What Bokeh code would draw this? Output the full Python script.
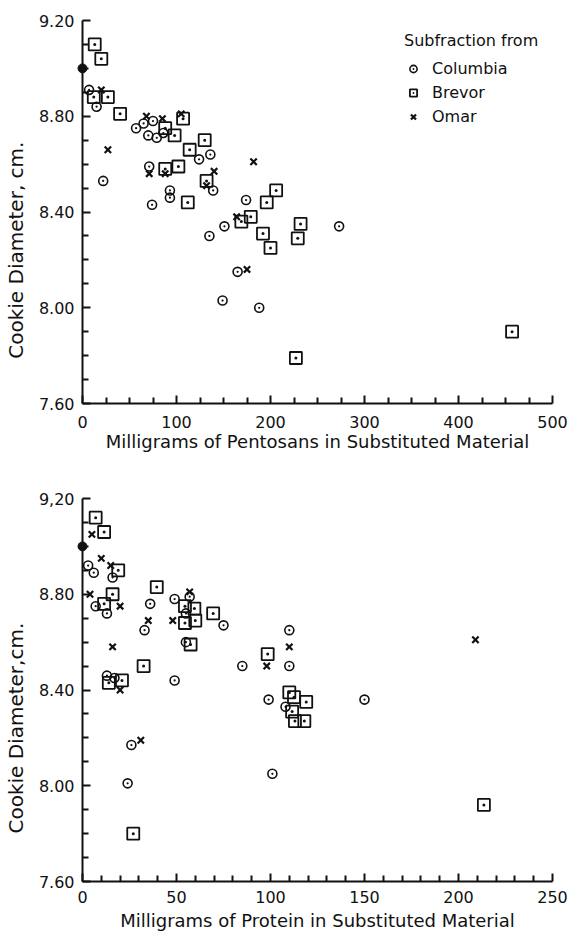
from bokeh.plotting import figure
from bokeh.layouts import column
from bokeh.models import Range1d, FixedTicker, Legend, LegendItem
from bokeh.embed import file_html
from bokeh.resources import INLINE

# ---------------- data ----------------
control_x = [0]
control_y = [9.00]

# top: pentosans (mg)
top_col_x = [7, 15, 22, 57, 65, 75, 70, 79, 86, 124, 136, 71, 93, 93, 74, 139, 174, 151, 135, 273, 165, 149, 188]
top_col_y = [8.91, 8.84, 8.53, 8.75, 8.77, 8.78, 8.72, 8.71, 8.73, 8.62, 8.64, 8.59, 8.49, 8.46, 8.43, 8.49, 8.45, 8.34, 8.30, 8.34, 8.15, 8.03, 8.00]
top_bre_x = [13, 20, 12, 27, 40, 88, 107, 98, 130, 114, 88, 102, 112, 132, 196, 206, 169, 179, 192, 200, 232, 229, 227, 457]
top_bre_y = [9.10, 9.04, 8.88, 8.88, 8.81, 8.75, 8.79, 8.72, 8.70, 8.66, 8.58, 8.59, 8.44, 8.53, 8.44, 8.49, 8.36, 8.38, 8.31, 8.25, 8.35, 8.29, 7.79, 7.90]
top_omar_x = [20, 27, 68, 85, 105, 71, 88, 140, 132, 182, 164, 175]
top_omar_y = [8.91, 8.66, 8.80, 8.79, 8.81, 8.56, 8.56, 8.57, 8.51, 8.61, 8.38, 8.16]

# bottom: protein (mg)
bot_col_x = [3, 6, 16, 7, 13, 13, 17, 36, 33, 49, 49, 57, 55, 75, 55, 85, 110, 110, 99, 150, 108, 26, 24, 101]
bot_col_y = [8.92, 8.89, 8.87, 8.75, 8.72, 8.46, 8.45, 8.76, 8.65, 8.44, 8.78, 8.79, 8.72, 8.67, 8.60, 8.50, 8.65, 8.50, 8.36, 8.36, 8.33, 8.17, 8.01, 8.05]
bot_bre_x = [7, 11.5, 19, 16, 11.5, 14, 21, 39.5, 32.5, 54.5, 59.5, 54.5, 60, 69.5, 57.5, 98.5, 110, 112.5, 119, 111.5, 113, 118, 27, 213.5]
bot_bre_y = [9.12, 9.06, 8.90, 8.80, 8.76, 8.43, 8.44, 8.83, 8.50, 8.75, 8.74, 8.68, 8.69, 8.72, 8.59, 8.55, 8.39, 8.37, 8.35, 8.31, 8.27, 8.27, 7.80, 7.92]
bot_omar_x = [5, 10, 15, 4, 20, 16, 20, 35, 48, 57, 98, 110, 209, 31]
bot_omar_y = [9.05, 8.95, 8.92, 8.80, 8.75, 8.58, 8.40, 8.69, 8.69, 8.81, 8.50, 8.58, 8.61, 8.19]

y_major = [7.6, 8.0, 8.4, 8.8, 9.2]
y_minor = [7.7, 7.8, 7.9, 8.1, 8.2, 8.3, 8.5, 8.6, 8.7, 8.9, 9.0, 9.1]
top_y_labels = ["7.60", "8.00", "8.40", "8.80", "9.20"]
bot_y_labels = ["7.60", "8.00", "8.40", "8.80", "9,20"]

top_x_major = [0, 100, 200, 300, 400, 500]
top_x_minor = [25, 50, 75, 125, 150, 175, 225, 250, 275, 325, 350, 375, 425, 450, 475]
bot_x_major = [0, 50, 100, 150, 200, 250]
bot_x_minor = [v for v in range(10, 250, 10) if v % 50 != 0]

# trailing no-break spaces push the (centred) label down as in the original
top_ylabel = "Cookie Diameter, cm." + "\u00a0" * 12
bot_ylabel = "Cookie Diameter,cm." + "\u00a0" * 12
top_xlabel = "Milligrams of Pentosans in Substituted Material"
bot_xlabel = "Milligrams of Protein in Substituted Material"

FONT = "DejaVu Sans"
INK = "#111111"


def style(p, x_major, x_minor, y_labels, xlabel, ylabel, tick_standoff, title_standoff):
    p.outline_line_color = None
    p.xgrid.visible = False
    p.ygrid.visible = False
    p.background_fill_color = "white"
    p.border_fill_color = "white"
    p.xaxis.ticker = FixedTicker(ticks=x_major, minor_ticks=x_minor)
    p.yaxis.ticker = FixedTicker(ticks=y_major, minor_ticks=y_minor)
    p.yaxis.major_label_overrides = {v: s for v, s in zip(y_major, y_labels)}
    for ax in (p.xaxis[0], p.yaxis[0]):
        ax.axis_line_color = INK
        ax.axis_line_width = 2
        ax.major_tick_line_color = INK
        ax.major_tick_line_width = 2
        ax.minor_tick_line_color = INK
        ax.minor_tick_line_width = 2
        ax.major_tick_in = 8
        ax.major_tick_out = 0
        ax.minor_tick_in = 6
        ax.minor_tick_out = 0
        ax.major_label_text_font = FONT
        ax.major_label_text_font_size = "16px"
        ax.major_label_text_color = INK
        ax.axis_label_text_font = FONT
        ax.axis_label_text_font_style = "normal"
        ax.axis_label_text_color = INK
    p.yaxis.major_label_standoff = 8
    p.xaxis.major_label_standoff = tick_standoff
    p.yaxis.axis_label = ylabel
    p.yaxis.axis_label_text_font_size = "20px"
    p.yaxis.axis_label_standoff = 8
    p.xaxis.axis_label = xlabel
    p.xaxis.axis_label_text_font_size = "18px"
    p.xaxis.axis_label_standoff = title_standoff


def add_points(p, cx, cy, bx, by, ox, oy):
    rc = p.scatter(cx, cy, marker="circle_dot", size=9, line_width=1.6,
                   line_color=INK, fill_color=None)
    rb = p.scatter(bx, by, marker="square_dot", size=12, line_width=1.8,
                   line_color=INK, fill_color=None)
    ro = p.scatter(ox, oy, marker="x", size=9, line_width=2.2, line_color=INK)
    p.scatter(control_x, control_y, marker="circle", size=9, line_color=INK,
              fill_color=INK, level="overlay")
    return rc, rb, ro


# ---------------- top figure ----------------
p1 = figure(width=572, height=455, output_backend="svg", toolbar_location=None,
            x_range=Range1d(0, 500), y_range=Range1d(7.6, 9.2),
            min_border_left=82, min_border_right=20, min_border_top=20,
            min_border_bottom=52)
style(p1, top_x_major, top_x_minor, top_y_labels, top_xlabel, top_ylabel, 12, 0)
rc, rb, ro = add_points(p1, top_col_x, top_col_y, top_bre_x, top_bre_y,
                        top_omar_x, top_omar_y)

legend = Legend(items=[LegendItem(label="Columbia", renderers=[rc]),
                       LegendItem(label="Brevor", renderers=[rb]),
                       LegendItem(label="Omar", renderers=[ro])],
                title="Subfraction from", location=(322, 276))
legend.border_line_color = None
legend.background_fill_alpha = 0
legend.title_text_font = FONT
legend.title_text_font_size = "16px"
legend.title_text_font_style = "normal"
legend.title_text_color = INK
legend.label_text_font = FONT
legend.label_text_font_size = "16px"
legend.label_text_color = INK
legend.glyph_width = 18
legend.glyph_height = 21
legend.label_height = 21
legend.spacing = 3
legend.label_standoff = 10
legend.title_standoff = 8
legend.padding = 4
legend.margin = 0
p1.add_layout(legend)

# ---------------- bottom figure ----------------
p2 = figure(width=572, height=479, output_backend="svg", toolbar_location=None,
            x_range=Range1d(0, 250), y_range=Range1d(7.6, 9.2),
            min_border_left=78, min_border_right=18, min_border_top=43,
            min_border_bottom=53)
style(p2, bot_x_major, bot_x_minor, bot_y_labels, bot_xlabel, bot_ylabel, 9, 4)
add_points(p2, bot_col_x, bot_col_y, bot_bre_x, bot_bre_y,
           bot_omar_x, bot_omar_y)

layout = column(p1, p2, spacing=0)
open("out.html", "w").write(file_html(layout, INLINE))
